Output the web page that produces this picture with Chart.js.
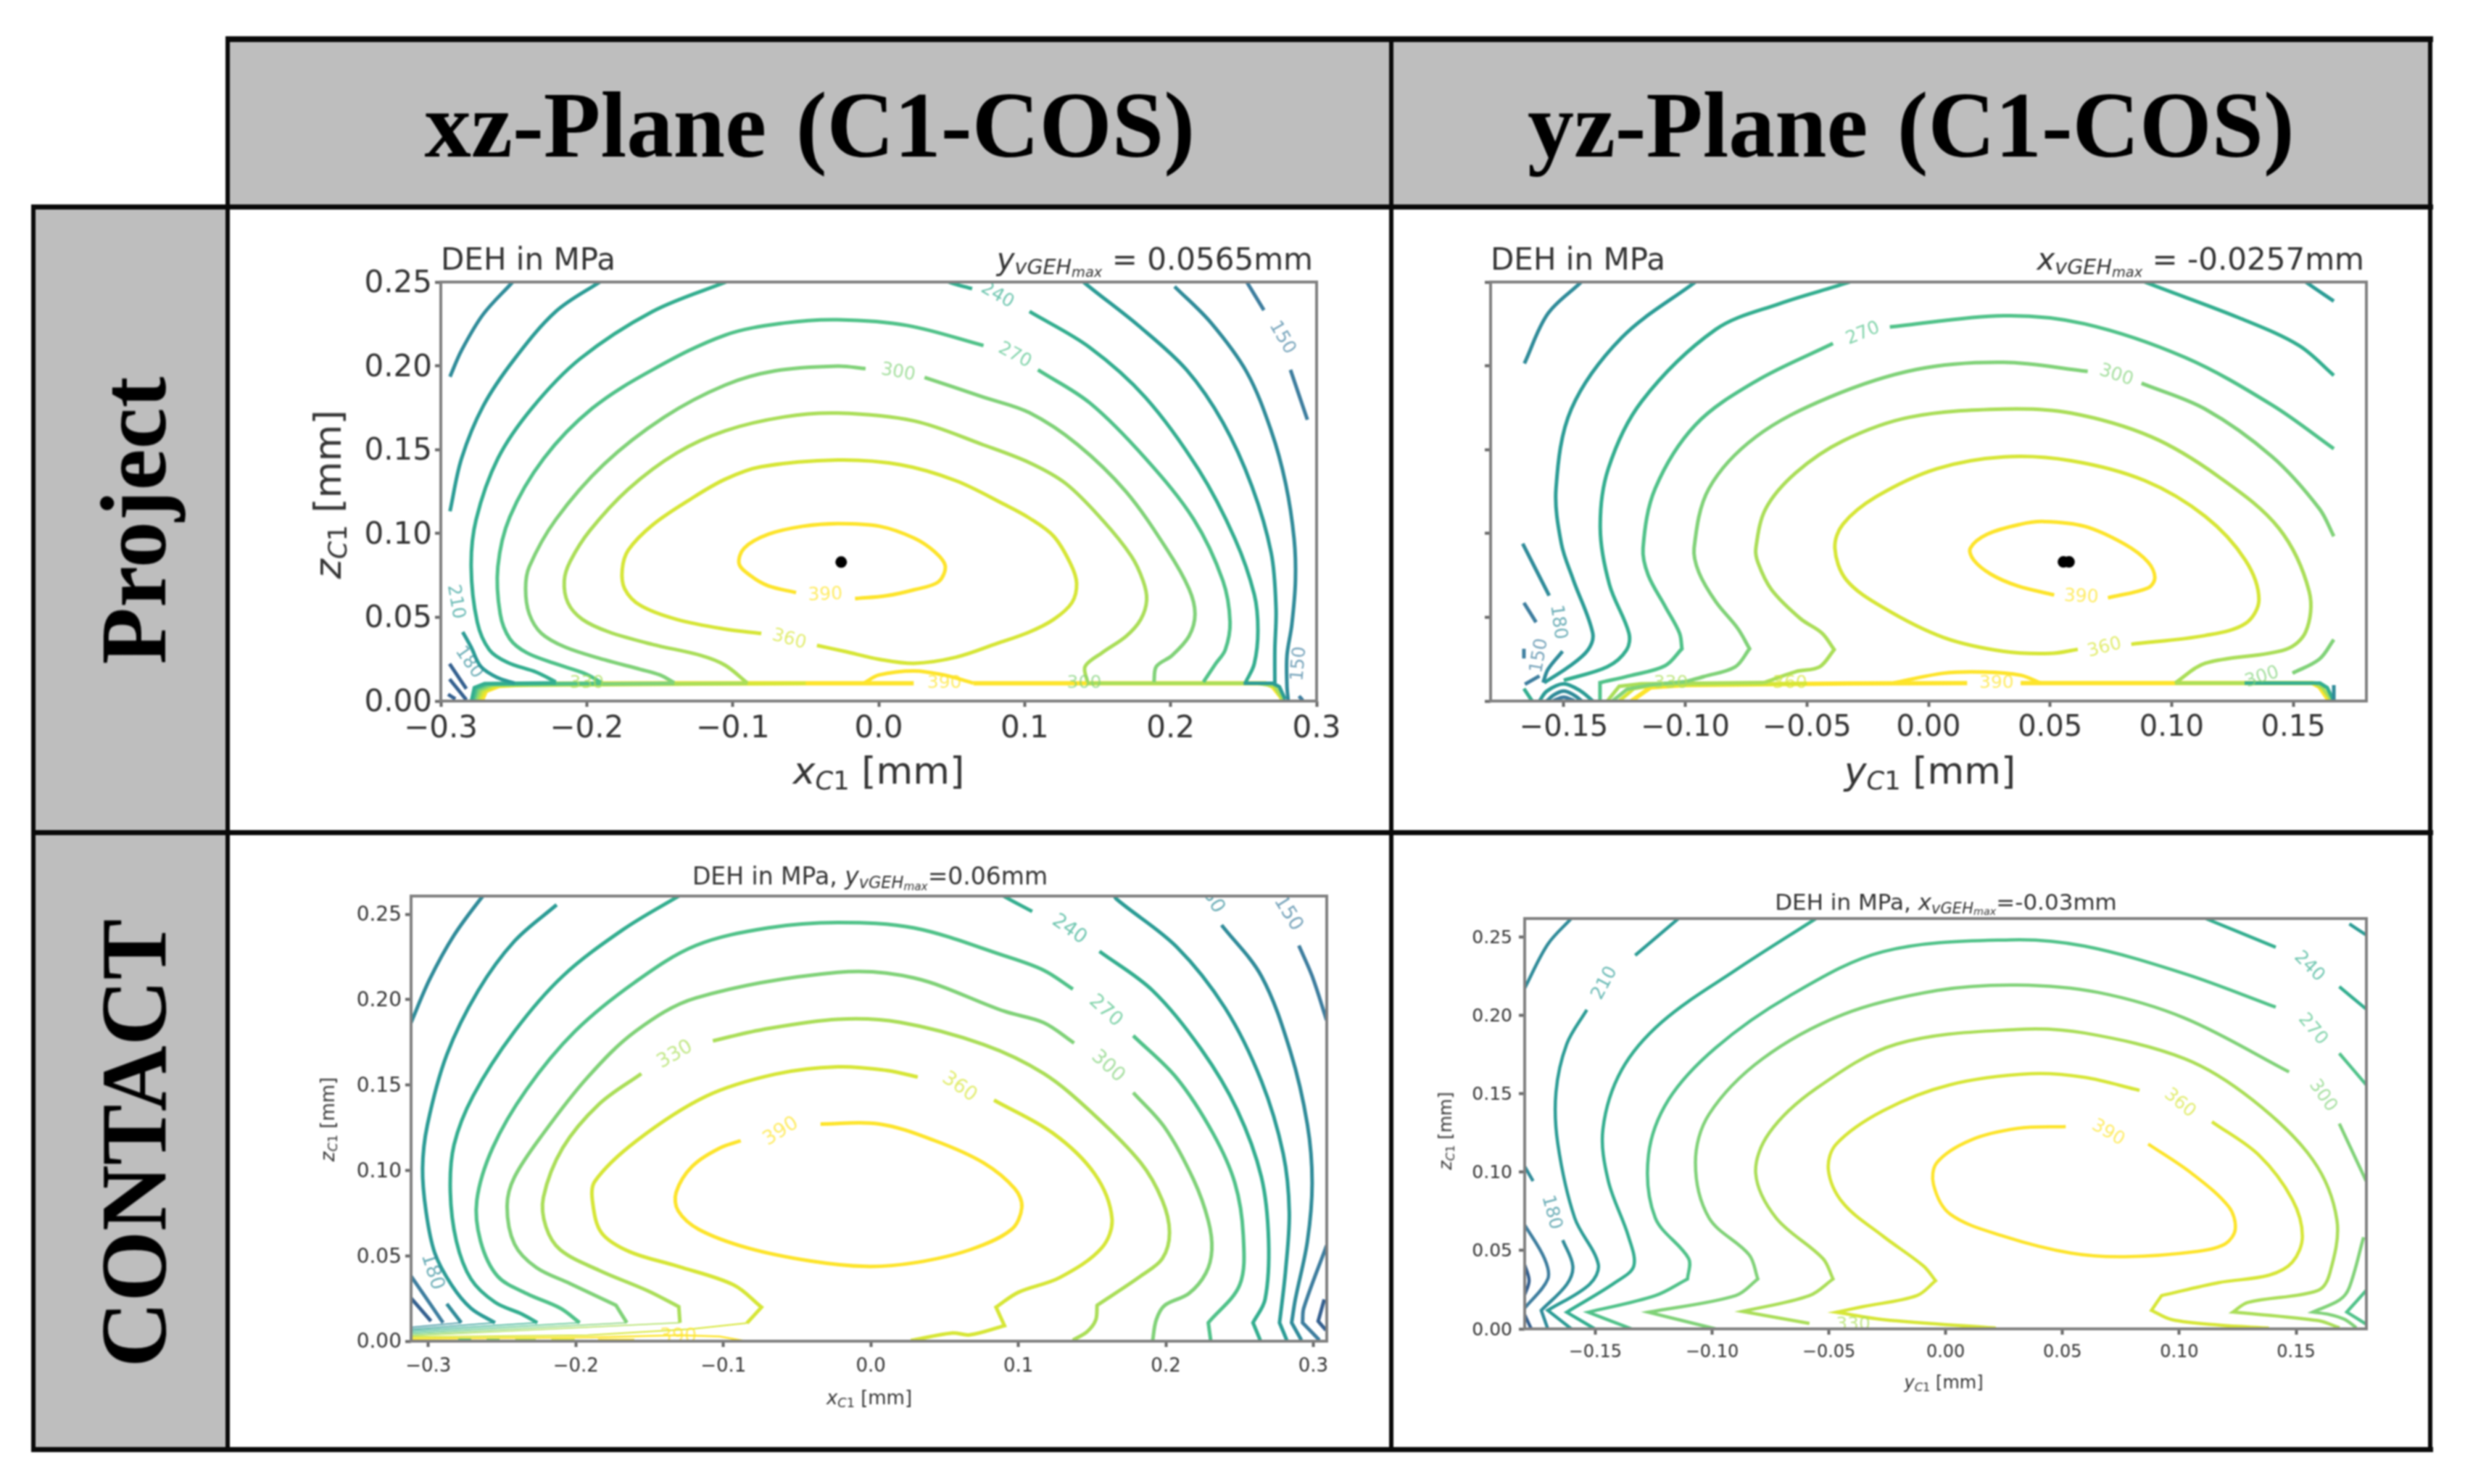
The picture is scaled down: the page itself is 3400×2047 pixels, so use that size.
<!DOCTYPE html>
<html>
<head>
<meta charset="utf-8">
<title>DEH contours</title>
<script src="https://cdn.jsdelivr.net/npm/chart.js@4"></script>
<style>
  html, body { margin: 0; background: #fff; }
  #page { position: relative; width: 3400px; height: 2047px; overflow: hidden; filter: blur(1px); }
  .cell { position: absolute; background: #bebebe; }
  .line { position: absolute; background: #0a0a0a; }
  canvas { position: absolute; }
  .head { position: absolute; font: bold 130px 'Liberation Serif', serif; color: #000; white-space: pre; word-spacing: -12px; transform-origin: center; }
  .txt { position: absolute; font-family: 'DejaVu Sans', sans-serif; color: #333; white-space: nowrap; line-height: 1; }
  .txt sub { font-size: 68%; vertical-align: -0.22em; line-height: 0; }
  .txt sub sub { font-size: 68%; vertical-align: -0.2em; }
</style>
</head>
<body>
<div id="page">
  <div class="cell" style="left:314px;top:54px;width:3038px;height:231px"></div>
  <div class="cell" style="left:46px;top:285px;width:268px;height:1714px"></div>

  <div class="line" style="left:311px;top:50px;width:3045px;height:8px"></div>
  <div class="line" style="left:43px;top:282px;width:3313px;height:7px"></div>
  <div class="line" style="left:43px;top:1145px;width:3313px;height:7px"></div>
  <div class="line" style="left:43px;top:1996px;width:3313px;height:7px"></div>
  <div class="line" style="left:43px;top:282px;width:6px;height:1721px"></div>
  <div class="line" style="left:311px;top:50px;width:6px;height:1953px"></div>
  <div class="line" style="left:1916px;top:50px;width:6px;height:1953px"></div>
  <div class="line" style="left:3349px;top:50px;width:6px;height:1953px"></div>

  <div class="head" data-w="1063" data-cx="1117" data-cy="172">xz-Plane  (C1-COS)</div>
  <div class="head" data-w="1058" data-cx="2636" data-cy="172">yz-Plane  (C1-COS)</div>
  <div class="head" data-w="397" data-cx="184" data-cy="718" data-rot="1">Project</div>
  <div class="head" data-w="618" data-cx="184" data-cy="1577" data-rot="1">CONTACT</div>

  <canvas id="pXz"></canvas>
  <canvas id="pYz"></canvas>
  <canvas id="cXz"></canvas>
  <canvas id="cYz"></canvas>

  <div class="txt" style="left:608px;top:337px;font-size:42px">DEH in MPa</div>
  <div class="txt" style="right:1589px;top:337px;font-size:42px"><i>y</i><sub><i>vGEH</i><sub><i>max</i></sub></sub> = 0.0565mm</div>
  <div class="txt" style="left:1212px;top:1063px;font-size:52px;transform:translate(-50%,-50%)"><i>x</i><sub><i>C</i>1</sub> [mm]</div>
  <div class="txt" style="left:452px;top:682px;font-size:52px;transform:translate(-50%,-50%) rotate(-90deg)"><i>z</i><sub><i>C</i>1</sub> [mm]</div>

  <div class="txt" style="left:2056px;top:337px;font-size:42px">DEH in MPa</div>
  <div class="txt" style="right:139px;top:337px;font-size:42px"><i>x</i><sub><i>vGEH</i><sub><i>max</i></sub></sub> = -0.0257mm</div>
  <div class="txt" style="left:2662px;top:1063px;font-size:52px;transform:translate(-50%,-50%)"><i>y</i><sub><i>C</i>1</sub> [mm]</div>

  <div class="txt" style="left:1200px;top:1208px;font-size:33px;transform:translate(-50%,-50%)">DEH in MPa, <i>y</i><sub><i>vGEH</i><sub><i>max</i></sub></sub>=0.06mm</div>
  <div class="txt" style="left:1199px;top:1928px;font-size:26px;transform:translate(-50%,-50%)"><i>x</i><sub><i>C</i>1</sub> [mm]</div>
  <div class="txt" style="left:452px;top:1544px;font-size:26px;transform:translate(-50%,-50%) rotate(-90deg)"><i>z</i><sub><i>C</i>1</sub> [mm]</div>

  <div class="txt" style="left:2684px;top:1244px;font-size:31px;transform:translate(-50%,-50%)">DEH in MPa, <i>x</i><sub><i>vGEH</i><sub><i>max</i></sub></sub>=-0.03mm</div>
  <div class="txt" style="left:2681px;top:1907px;font-size:24px;transform:translate(-50%,-50%)"><i>y</i><sub><i>C</i>1</sub> [mm]</div>
  <div class="txt" style="left:1994px;top:1560px;font-size:24px;transform:translate(-50%,-50%) rotate(-90deg)"><i>z</i><sub><i>C</i>1</sub> [mm]</div>
</div>

<script>
// tick labels
const xTicksWide = [-0.3, -0.2, -0.1, 0.0, 0.1, 0.2, 0.3];
const yzTicksX = [-0.15, -0.10, -0.05, 0.00, 0.05, 0.10, 0.15];
const zTicks = [0.00, 0.05, 0.10, 0.15, 0.20, 0.25];

// line colour per DEH level
const levelColors = {
  120: '#34608f', 150: '#3d7d9e', 180: '#2f8b99', 210: '#2b9c95', 240: '#33ae8f',
  270: '#50c289', 300: '#80d278', 330: '#aade58', 360: '#d6e636', 390: '#fde42a'
};

// a point written twice is a sharp corner of the contour

// ---- Project, xz-plane: [x, z]
const pXz390 = [[-0.0566,0.0647],[-0.0756,0.0687],[-0.0875,0.0746],[-0.0956,0.0818],[-0.0922,0.0912],[-0.0756,0.0995],[-0.0518,0.1043],[-0.0281,0.1059],[0.0005,0.1043],[0.0243,0.0972],[0.0385,0.0889],[0.0456,0.0806],[0.0409,0.0711],[0.0243,0.0664],[0.0052,0.0628],[-0.0162,0.0611]];
const pXz360 = [[-0.0804,0.0403],[-0.1053,0.0429],[-0.1384,0.0487],[-0.1632,0.0570],[-0.1740,0.0669],[-0.1757,0.0785],[-0.1715,0.0901],[-0.1550,0.1050],[-0.1301,0.1198],[-0.1053,0.1323],[-0.0804,0.1398],[-0.0281,0.1438],[0.0147,0.1410],[0.0528,0.1315],[0.0861,0.1173],[0.1033,0.1091],[0.1199,0.0983],[0.1315,0.0818],[0.1356,0.0702],[0.1323,0.0586],[0.1199,0.0487],[0.1033,0.0412],[0.0813,0.0344],[0.0528,0.0261],[0.0243,0.0225],[0.0005,0.0249],[-0.0233,0.0296],[-0.0423,0.0332]];
const pXz330 = [[-0.0899,0.0107],[-0.1053,0.0214],[-0.1218,0.0272],[-0.1550,0.0338],[-0.1848,0.0412],[-0.2030,0.0487],[-0.2129,0.0586],[-0.2154,0.0718],[-0.2113,0.0834],[-0.1980,0.1016],[-0.1715,0.1265],[-0.1384,0.1480],[-0.1053,0.1612],[-0.0650,0.1695],[-0.0281,0.1718],[0.0243,0.1671],[0.0718,0.1528],[0.1033,0.1422],[0.1281,0.1298],[0.1530,0.1083],[0.1729,0.0867],[0.1811,0.0718],[0.1836,0.0603],[0.1795,0.0487],[0.1695,0.0387],[0.1530,0.0288],[0.1414,0.0206],[0.1430,0.0114]];
const pXz300a = [[-0.1401,0.0109],[-0.1500,0.0156],[-0.1632,0.0189],[-0.1881,0.0247],[-0.2146,0.0321],[-0.2311,0.0404],[-0.2394,0.0520],[-0.2419,0.0669],[-0.2394,0.0801],[-0.2212,0.1083],[-0.1881,0.1414],[-0.1467,0.1695],[-0.1053,0.1885],[-0.0709,0.1970],[-0.0281,0.1998],[-0.0090,0.1983]];
const pXz300b = [[0.0314,0.1931],[0.0718,0.1813],[0.1033,0.1720],[0.1364,0.1529],[0.1695,0.1248],[0.1977,0.0901],[0.2126,0.0669],[0.2167,0.0520],[0.2126,0.0387],[0.2010,0.0272],[0.1902,0.0206],[0.1886,0.0114]];
const pXz270a = [[-0.1897,0.0109],[-0.2013,0.0164],[-0.2212,0.0222],[-0.2411,0.0288],[-0.2527,0.0371],[-0.2593,0.0520],[-0.2609,0.0801],[-0.2527,0.1099],[-0.2295,0.1447],[-0.1964,0.1745],[-0.1550,0.1976],[-0.1053,0.2183],[-0.0650,0.2255],[-0.0281,0.2275],[0.0200,0.2240],[0.0718,0.2121]];
const pXz270b = [[0.1091,0.1976],[0.1447,0.1778],[0.1828,0.1447],[0.2159,0.1083],[0.2358,0.0718],[0.2407,0.0470],[0.2374,0.0305],[0.2308,0.0222],[0.2225,0.0114]];
const pXz240a = [[-0.2212,0.0114],[-0.2345,0.0172],[-0.2543,0.0230],[-0.2667,0.0305],[-0.2750,0.0470],[-0.2792,0.0801],[-0.2758,0.1083],[-0.2609,0.1447],[-0.2378,0.1745],[-0.2046,0.2042],[-0.1550,0.2324],[-0.1053,0.2498],[-0.0950,0.2530]];
const pXz240b = [[0.0440,0.2530],[0.0480,0.2500],[0.0640,0.2460]];
const pXz240c = [[0.1033,0.2324],[0.1447,0.2109],[0.1828,0.1811],[0.2192,0.1380],[0.2441,0.0967],[0.2573,0.0636],[0.2598,0.0421],[0.2573,0.0222],[0.2515,0.0114]];
const pXz210a = [[-0.1850,0.2530],[-0.1914,0.2498],[-0.2212,0.2324],[-0.2494,0.2042],[-0.2709,0.1761],[-0.2858,0.1447],[-0.2937,0.1132]];
const pXz210b = [[-0.2850,0.0412],[-0.2792,0.0321],[-0.2725,0.0205],[-0.2610,0.0139],[-0.2494,0.0106]];
const pXz210c = [[0.1380,0.2530],[0.1406,0.2498],[0.1778,0.2241],[0.2109,0.1976],[0.2358,0.1662],[0.2557,0.1281],[0.2689,0.0884],[0.2722,0.0553],[0.2714,0.0305],[0.2714,0.0106]];
const pXz180a = [[-0.2480,0.2530],[-0.2510,0.2498],[-0.2710,0.2307],[-0.2858,0.2092],[-0.2937,0.1935]];
const pXz180b = [[0.2027,0.2473],[0.2275,0.2258],[0.2523,0.1960],[0.2689,0.1612],[0.2788,0.1298],[0.2846,0.0967],[0.2855,0.0718],[0.2830,0.0454],[0.2797,0.0272],[0.2797,0.0090],[0.2805,0.0007]];
const pXz150a = [[0.2500,0.2530],[0.2523,0.2498],[0.2639,0.2332]];
const pXz150b = [[0.2821,0.1976],[0.2937,0.1678]];
const pXz150c = [[0.2879,0.0030],[0.2905,0.0005]];
const pXz120a = [[-0.2940,0.0222],[-0.2825,0.0073]];
const pXz120b = [[-0.2940,0.0131],[-0.2825,0.0007]];
const pXz120c = [[-0.2950,0.0040],[-0.2900,0.0012]];
const pXzBase240 = [[-0.2790,0],[-0.2770,0.0080],[-0.2700,0.0104],[-0.2212,0.0108]];
const pXzBase270 = [[-0.2780,0],[-0.2755,0.0075],[-0.2680,0.0102],[-0.1897,0.0106]];
const pXzBase300 = [[-0.2770,0],[-0.2740,0.0070],[-0.2660,0.0098],[-0.1401,0.0106]];
const pXzBase330 = [[-0.2755,0],[-0.2725,0.0065],[-0.2640,0.0096],[-0.0899,0.0106]];
const pXzBase360 = [[-0.2740,0],[-0.2705,0.0060],[-0.2620,0.0093],[-0.0500,0.0106]];
const pXzBaseR = [[0.1430,0.0106],[0.2600,0.0106],[0.2710,0.0090],[0.2755,0.0030],[0.2775,0]];
const pXzBaseR210 = [[0.2500,0.0106],[0.2700,0.0106],[0.2745,0.0085],[0.2785,0.0010]];
const pXzBase390a = [[-0.2720,0],[-0.2690,0.0060],[-0.2600,0.0090],[-0.2300,0.0104],[-0.1500,0.0106],[0.0240,0.0106]];
const pXzBase390b = [[0.0650,0.0106],[0.2650,0.0106],[0.2700,0.0085],[0.2750,0.0030],[0.2770,0]];
const pXzBump390 = [[-0.0100,0.0107],[0.0000,0.0155],[0.0240,0.0180],[0.0450,0.0155],[0.0650,0.0107]];
const pXzContours = [
  [120,pXz120a],[120,pXz120b],[120,pXz120c],[150,pXz150a],[150,pXz150b],[150,pXz150c],
  [180,pXz180a],[180,pXz180b],[210,pXz210a],[210,pXz210b],[210,pXz210c],[210,pXzBaseR210,0],
  [240,pXz240a],[240,pXz240b],[240,pXz240c],[240,pXzBase240,0],
  [270,pXz270a],[270,pXz270b],[270,pXzBase270,0],
  [300,pXz300a],[300,pXz300b],[300,pXzBase300,0],
  [330,pXz330],[330,pXzBase330,0],[330,pXzBaseR,0],
  [360,pXz360],[360,pXzBase360,0],
  [390,pXz390],[390,pXzBase390a,0,6],[390,pXzBase390b,0,6],[390,pXzBump390]
];
const pXzLabelText = [240, 270, 300, 150, 390, 360, 210, 180, 150, 330, 390, 300];
const pXzLabelX = [0.0813, 0.0932, 0.0133, 0.2763, -0.0366, -0.0614, -0.2899, -0.2808, 0.2880, -0.2000, 0.0450, 0.1408];
const pXzLabelZ = [0.2420, 0.2062, 0.1960, 0.2168, 0.0633, 0.0367, 0.0592, 0.0230, 0.0222, 0.0104, 0.0104, 0.0104];
const pXzLabelDeg = [30, 28, 10, 60, -2, 15, 80, 55, -85, 0, 0, 0];
const pXzMax = [[-0.0257, 0.0829]];

// ---- Project, yz-plane
const pYz390 = [[0.0517,0.0633],[0.0366,0.0687],[0.0255,0.0758],[0.0186,0.0841],[0.0172,0.0912],[0.0241,0.0995],[0.0379,0.1055],[0.0476,0.1071],[0.0641,0.1043],[0.0807,0.0936],[0.0903,0.0829],[0.0931,0.0735],[0.0903,0.0675],[0.0738,0.0616]];
const pYz360 = [[0.0834,0.0339],[0.1138,0.0391],[0.1303,0.0462],[0.1359,0.0604],[0.1303,0.0841],[0.1138,0.1102],[0.0890,0.1315],[0.0586,0.1434],[0.0310,0.1457],[0.0034,0.1386],[-0.0214,0.1220],[-0.0352,0.1055],[-0.0385,0.0912],[-0.0338,0.0723],[-0.0186,0.0557],[0.0062,0.0379],[0.0310,0.0296],[0.0503,0.0284],[0.0614,0.0308]];
const pYz330 = [[-0.0676,0.0110],[-0.0547,0.0175],[-0.0448,0.0204],[-0.0388,0.0307],[-0.0388,0.0307],[-0.0438,0.0405],[-0.0527,0.0492],[-0.0646,0.0665],[-0.0701,0.0824],[-0.0710,0.0912],[-0.0669,0.1149],[-0.0545,0.1363],[-0.0352,0.1552],[-0.0076,0.1694],[0.0310,0.1742],[0.0586,0.1718],[0.0917,0.1576],[0.1193,0.1339],[0.1441,0.1031],[0.1566,0.0652],[0.1552,0.0415],[0.1469,0.0308],[0.1138,0.0225],[0.1014,0.0107]];
const pYz300a = [[-0.0994,0.0117],[-0.0924,0.0146],[-0.0795,0.0204],[-0.0736,0.0312],[-0.0736,0.0312],[-0.0785,0.0434],[-0.0875,0.0593],[-0.0944,0.0766],[-0.0964,0.0912],[-0.0903,0.1268],[-0.0710,0.1576],[-0.0407,0.1813],[-0.0048,0.1979],[0.0310,0.2021],[0.0655,0.1967]];
const pYz300b = [[0.0876,0.1896],[0.1138,0.1742],[0.1414,0.1457],[0.1607,0.1149],[0.1667,0.0983]];
const pYz300c = [[0.1667,0.0367],[0.1607,0.0249],[0.1497,0.0166]];
const pYz270a = [[-0.1351,0.0009],[-0.1351,0.0110],[-0.1351,0.0110],[-0.1222,0.0153],[-0.1083,0.0211],[-0.1014,0.0312],[-0.1014,0.0312],[-0.1024,0.0405],[-0.1083,0.0564],[-0.1153,0.0752],[-0.1174,0.0912],[-0.1124,0.1268],[-0.0959,0.1647],[-0.0710,0.1908],[-0.0393,0.2133]];
const pYz270b = [[-0.0159,0.2232],[0.0310,0.2299],[0.0641,0.2251],[0.1055,0.2050],[0.1414,0.1765],[0.1667,0.1505]];
const pYz240a = [[-0.1500,0.0124],[-0.1321,0.0204],[-0.1242,0.0304],[-0.1232,0.0405],[-0.1312,0.0694],[-0.1350,0.1031],[-0.1317,0.1386],[-0.1179,0.1789],[-0.0876,0.2216],[-0.0614,0.2370],[-0.0324,0.2500],[-0.0280,0.2530]];
const pYz240b = [[0.0850,0.2530],[0.0890,0.2500],[0.1276,0.2287],[0.1524,0.2121],[0.1667,0.1943]];
const pYz210a = [[-0.1580,0.0110],[-0.1480,0.0204],[-0.1401,0.0304],[-0.1381,0.0405],[-0.1461,0.0723],[-0.1510,0.0939],[-0.1532,0.1268],[-0.1469,0.1742],[-0.1262,0.2168],[-0.0959,0.2500],[-0.0930,0.2530]];
const pYz210b = [[0.1530,0.2530],[0.1552,0.2500],[0.1667,0.2386]];
const pYz180a = [[-0.1410,0.2530],[-0.1428,0.2500],[-0.1566,0.2310],[-0.1662,0.2014]];
const pYz180b = [[-0.1669,0.0939],[-0.1560,0.0629]];
const pYz180c = [[-0.1505,0.0297],[-0.1565,0.0189],[-0.1585,0.0110]];
const pYz150a = [[-0.1664,0.0586],[-0.1614,0.0470]];
const pYz150b = [[-0.1664,0.0312],[-0.1664,0.0254]];
const pYz150c = [[-0.1660,0.0100],[-0.1600,0.0150]];
const pYzArc210 = [[-0.1600,0],[-0.1570,0.0059],[-0.1500,0.0103],[-0.1430,0.0059],[-0.1381,0]];
const pYzArc180 = [[-0.1570,0],[-0.1540,0.0037],[-0.1500,0.0059],[-0.1460,0.0037],[-0.1426,0]];
const pYzArc150 = [[-0.1545,0],[-0.1500,0.0023],[-0.1455,0]];
const pYzCorner240 = [[-0.1664,0.0074],[-0.1630,0]];
const pYzEdge180 = [[0.1667,0.0095],[0.1667,0]];
const pYzBase240 = [[0.1300,0.0107],[0.1610,0.0107],[0.1640,0.0080],[0.1667,0]];
const pYzBase330L = [[-0.1321,0],[-0.1272,0.0088],[-0.1182,0.0103],[-0.0676,0.0110]];
const pYzBase330R = [[0.1014,0.0107],[0.1590,0.0107],[0.1620,0.0080],[0.1660,0]];
const pYzBase300 = [[-0.0994,0.0117],[-0.1150,0.0095],[-0.1240,0.0070],[-0.1300,0]];
const pYzBase360 = [[-0.1272,0],[-0.1212,0.0074],[-0.1123,0.0095],[-0.0500,0.0105]];
const pYzBase390a = [[-0.1222,0],[-0.1143,0.0081],[-0.1004,0.0095],[-0.0328,0.0105],[0.0159,0.0107]];
const pYzBase390b = [[0.0379,0.0107],[0.1579,0.0107],[0.1607,0.0085],[0.1648,0]];
const pYzBump390 = [[-0.0145,0.0107],[0.0062,0.0166],[0.0228,0.0173],[0.0379,0.0154],[0.0462,0.0107]];
const pYzContours = [
  [150,pYz150a],[150,pYz150b],[150,pYz150c],[150,pYzArc150],[180,pYzArc180],[210,pYzArc210],
  [180,pYz180a],[180,pYz180b],[180,pYz180c],[180,pYzEdge180,0],
  [210,pYz210a],[210,pYz210b],[240,pYz240a],[240,pYz240b],[240,pYzCorner240,0],[240,pYzBase240,0],
  [270,pYz270a],[270,pYz270b],[300,pYz300a],[300,pYz300b],[300,pYz300c],[300,pYzBase300,0],
  [330,pYz330],[330,pYzBase330L,0],[330,pYzBase330R,0],[360,pYz360],[360,pYzBase360,0],
  [390,pYz390],[390,pYzBase390a,0,6],[390,pYzBase390b,0,6],[390,pYzBump390]
];
const pYzLabelText = [270, 300, 390, 360, 180, 150, 330, 360, 390, 300];
const pYzLabelX = [-0.0269, 0.0772, 0.0628, 0.0724, -0.1524, -0.1600, -0.1060, -0.0570, 0.0280, 0.1372];
const pYzLabelZ = [0.2192, 0.1943, 0.0621, 0.0318, 0.0470, 0.0270, 0.0104, 0.0104, 0.0104, 0.0142];
const pYzLabelDeg = [-22, 18, 3, -15, 82, -80, 0, 0, 0, -18];
const pYzMax = [[0.0555, 0.0830], [0.0578, 0.0830]];

// ---- CONTACT, xz-plane
const cXz390 = [[-0.0341,0.1272],[0.0059,0.1272],[0.0435,0.1174],[0.0765,0.1044],[0.0976,0.0893],[0.1024,0.0785],[0.0953,0.0654],[0.0671,0.0535],[0.0294,0.0459],[-0.0035,0.0438],[-0.0412,0.0470],[-0.0835,0.0546],[-0.1165,0.0654],[-0.1306,0.0763],[-0.1320,0.0871],[-0.1212,0.1023],[-0.1024,0.1131],[-0.0882,0.1174]];
const cXz360a = [[0.0835,0.1412],[0.1235,0.1218],[0.1518,0.0979],[0.1635,0.0719],[0.1565,0.0546],[0.1282,0.0373],[0.1000,0.0286],[0.0849,0.0199],[0.0849,0.0199],[0.0906,0.0091],[0.0906,0.0091],[0.0671,0.0037],[0.0553,0.0048],[0.0271,0.0004]];
const cXz360b = [[0.0318,0.1547],[0.0106,0.1586],[-0.0224,0.1607],[-0.0647,0.1564],[-0.1118,0.1434],[-0.1588,0.1174],[-0.1871,0.0936],[-0.1885,0.0806],[-0.1824,0.0633],[-0.1635,0.0524],[-0.1306,0.0438],[-0.0929,0.0329],[-0.0741,0.0199],[-0.0741,0.0199],[-0.0840,0.0106]];
const cXz330a = [[-0.1294,0.0108],[-0.1302,0.0202],[-0.1302,0.0202],[-0.1515,0.0296],[-0.1843,0.0415],[-0.2105,0.0535],[-0.2203,0.0671],[-0.2220,0.0842],[-0.2089,0.1132],[-0.1843,0.1388],[-0.1556,0.1567]];
const cXz330b = [[-0.1071,0.1759],[-0.0741,0.1824],[-0.0224,0.1885],[0.0200,0.1867],[0.0765,0.1737],[0.1173,0.1567],[0.1501,0.1336],[0.1829,0.1046],[0.1976,0.0825],[0.2025,0.0637],[0.1976,0.0483],[0.1829,0.0381],[0.1534,0.0210],[0.1534,0.0210],[0.1525,0.0125],[0.1468,0.0057],[0.1370,0.0006]];
const cXz300a = [[-0.1654,0.0108],[-0.1728,0.0210],[-0.1728,0.0210],[-0.2040,0.0338],[-0.2269,0.0432],[-0.2416,0.0569],[-0.2466,0.0791],[-0.2416,0.0961],[-0.2220,0.1217],[-0.1925,0.1541],[-0.1597,0.1814],[-0.1187,0.2010],[-0.0224,0.2160],[0.0294,0.2127],[0.0906,0.1932],[0.1173,0.1865],[0.1378,0.1746]];
const cXz300b = [[0.1779,0.1456],[0.1993,0.1251],[0.2189,0.0944],[0.2288,0.0705],[0.2312,0.0535],[0.2271,0.0398],[0.2156,0.0279],[0.1993,0.0210],[0.1935,0.0125],[0.1911,0.0006]];
const cXz270a = [[-0.1974,0.0108],[-0.2105,0.0193],[-0.2334,0.0279],[-0.2531,0.0381],[-0.2646,0.0586],[-0.2671,0.0825],[-0.2564,0.1132],[-0.2335,0.1473],[-0.2007,0.1814],[-0.1597,0.2104],[-0.1187,0.2317],[-0.0700,0.2420],[-0.0224,0.2452],[0.0294,0.2420],[0.0906,0.2257],[0.1173,0.2172],[0.1370,0.2062]];
const cXz270b = [[0.1779,0.1789],[0.2074,0.1541],[0.2320,0.1217],[0.2468,0.0927],[0.2525,0.0620],[0.2501,0.0330],[0.2288,0.0108],[0.2288,0.0108],[0.2304,0.0006]];
const cXz240a = [[-0.2261,0.0108],[-0.2367,0.0159],[-0.2548,0.0228],[-0.2711,0.0364],[-0.2810,0.0586],[-0.2851,0.0876],[-0.2826,0.1149],[-0.2695,0.1439],[-0.2416,0.1814],[-0.2089,0.2138],[-0.1679,0.2411],[-0.1318,0.2599],[-0.1250,0.2630]];
const cXz240b = [[0.0870,0.2630],[0.0906,0.2604],[0.1094,0.2517]];
const cXz240c = [[0.1550,0.2283],[0.1911,0.2053],[0.2238,0.1712],[0.2484,0.1354],[0.2648,0.0961],[0.2697,0.0586],[0.2673,0.0245],[0.2591,0.0108],[0.2591,0.0108],[0.2640,0.0006]];
const cXz210a = [[-0.2548,0.0108],[-0.2711,0.0193],[-0.2843,0.0330],[-0.2957,0.0518],[-0.3015,0.0756],[-0.3039,0.1012],[-0.3006,0.1268],[-0.2875,0.1678],[-0.2662,0.2053],[-0.2416,0.2343],[-0.2130,0.2556]];
const cXz210b = [[0.1640,0.2630],[0.1665,0.2590],[0.2074,0.2309],[0.2402,0.1951],[0.2648,0.1524],[0.2796,0.1098],[0.2837,0.0756],[0.2812,0.0415],[0.2771,0.0108],[0.2771,0.0108],[0.2820,0.0006]];
const cXz180a = [[-0.2600,0.2630],[-0.2638,0.2599],[-0.2826,0.2377],[-0.2990,0.2121],[-0.3120,0.1860]];
const cXz180b = [[0.2378,0.2437],[0.2648,0.2138],[0.2845,0.1695],[0.2960,0.1268],[0.2992,0.0927],[0.2960,0.0586],[0.2878,0.0245],[0.2853,0.0108],[0.2853,0.0108],[0.2919,0.0006]];
const cXz180c = [[-0.2875,0.0219],[-0.2777,0.0108]];
const cXz150a = [[0.2902,0.2317],[0.2992,0.2138],[0.3090,0.1880]];
const cXz150b = [[-0.3120,0.0385],[-0.2900,0.0108]];
const cXz150c = [[0.3090,0.0560],[0.2935,0.0193],[0.2927,0.0108],[0.2927,0.0108],[0.3041,0.0006]];
const cXz120a = [[-0.3120,0.0255],[-0.2982,0.0117]];
const cXz120b = [[0.3074,0.0245],[0.3033,0.0117],[0.3033,0.0117],[0.3085,0.0065]];
const cXzWedge180 = [[-0.2777,0.0108],[-0.3110,0.0082]];
const cXzWedge210 = [[-0.2548,0.0108],[-0.3110,0.0070]];
const cXzWedge240 = [[-0.2261,0.0108],[-0.3110,0.0060]];
const cXzWedge270 = [[-0.1974,0.0108],[-0.3110,0.0050]];
const cXzWedge300 = [[-0.1654,0.0108],[-0.3110,0.0040]];
const cXzWedge330 = [[-0.1294,0.0108],[-0.3110,0.0032]];
const cXzWedge360 = [[-0.0840,0.0106],[-0.1217,0.0071],[-0.1920,0.0035],[-0.3110,0.0024]];
const cXzWedge390 = [[-0.0866,0.0003],[-0.1024,0.0028],[-0.1300,0.0035],[-0.1900,0.0022],[-0.3110,0.0014]];
const cXzFoot390 = [[-0.1850,0.0004],[-0.1604,0.0004]];
const cXzFoot360 = [[-0.2166,0.0004],[-0.2008,0.0004]];
const cXzFoot330 = [[-0.2411,0.0004],[-0.2271,0.0004]];
const cXzFoot300 = [[-0.2605,0.0004],[-0.2517,0.0004]];
const cXzFoot270 = [[-0.2798,0.0004],[-0.2710,0.0004]];
const cXzContours = [
  [120,cXz120a],[120,cXz120b],[150,cXz150a],[150,cXz150b],[150,cXz150c],
  [180,cXz180a],[180,cXz180b],[180,cXz180c],[180,cXzWedge180,0,1.5],
  [210,cXz210a],[210,cXz210b],[210,cXzWedge210,0,1.5],
  [240,cXz240a],[240,cXz240b],[240,cXz240c],[240,cXzWedge240,0,1.5],
  [270,cXz270a],[270,cXz270b],[270,cXzWedge270,0,1.5],[270,cXzFoot270,0],
  [300,cXz300a],[300,cXz300b],[300,cXzWedge300,0,1.5],[300,cXzFoot300,0],
  [330,cXz330a],[330,cXz330b],[330,cXzWedge330,0,1.5],[330,cXzFoot330,0],
  [360,cXz360a],[360,cXz360b],[360,cXzWedge360,0,2],[360,cXzFoot360,0],
  [390,cXz390],[390,cXzWedge390,0,2.5],[390,cXzFoot390,0]
];
const cXzLabelText = [390, 360, 330, 300, 270, 240, 180, 150, 180, 390];
const cXzLabelX = [-0.0609, 0.0600, -0.1327, 0.1607, 0.1591, 0.1345, 0.2300, 0.2828, -0.2974, -0.1306];
const cXzLabelZ = [0.1228, 0.1488, 0.1678, 0.1609, 0.1934, 0.2411, 0.2610, 0.2505, 0.0407, 0.0026];
const cXzLabelDeg = [-32, 35, -30, 42, 42, 35, 60, 58, 72, 0];

// ---- CONTACT, yz-plane
const cYz390 = [[0.0867,0.1179],[0.1054,0.0991],[0.1212,0.0778],[0.1240,0.0637],[0.1197,0.0542],[0.1082,0.0495],[0.0767,0.0460],[0.0537,0.0483],[0.0250,0.0590],[0.0020,0.0731],[-0.0052,0.0920],[-0.0037,0.1061],[0.0106,0.1203],[0.0307,0.1278],[0.0514,0.1290]];
const cYz360a = [[0.1140,0.1321],[0.1341,0.1108],[0.1484,0.0825],[0.1527,0.0590],[0.1484,0.0425],[0.1384,0.0342],[0.1169,0.0295],[0.0924,0.0212],[0.0924,0.0212],[0.0881,0.0118],[0.0881,0.0118],[0.0968,0.0059],[0.1169,0.0024],[0.1384,0.0005]];
const cYz360b = [[0.0830,0.1521],[0.0594,0.1604],[0.0365,0.1627],[0.0020,0.1557],[-0.0267,0.1392],[-0.0468,0.1179],[-0.0502,0.1014],[-0.0439,0.0802],[-0.0267,0.0590],[-0.0095,0.0401],[-0.0043,0.0307],[-0.0043,0.0307],[-0.0123,0.0212],[-0.0353,0.0142],[-0.0468,0.0106],[-0.0468,0.0106],[-0.0267,0.0059],[0.0215,0.0005]];
const cYz330 = [[-0.0583,0.0035],[-0.0870,0.0111],[-0.0870,0.0111],[-0.0583,0.0212],[-0.0482,0.0318],[-0.0482,0.0318],[-0.0525,0.0448],[-0.0726,0.0708],[-0.0813,0.0991],[-0.0755,0.1250],[-0.0554,0.1533],[-0.0210,0.1816],[0.0307,0.1910],[0.0594,0.1887],[0.1025,0.1722],[0.1312,0.1462],[0.1572,0.1077],[0.1675,0.0692],[0.1644,0.0353],[0.1593,0.0245],[0.1293,0.0168],[0.1230,0.0107],[0.1230,0.0107],[0.1593,0.0053],[0.1686,0.0007]];
const cYz300a = [[-0.0985,0],[-0.1272,0.0106],[-0.1272,0.0106],[-0.0899,0.0212],[-0.0804,0.0318],[-0.0804,0.0318],[-0.0841,0.0472],[-0.1013,0.0708],[-0.1071,0.1061],[-0.1013,0.1368],[-0.0784,0.1722],[-0.0439,0.2005],[-0.0037,0.2158],[0.0307,0.2193],[0.0652,0.2146],[0.1025,0.1981],[0.1470,0.1639]];
const cYz300b = [[0.1685,0.1309],[0.1800,0.0943]];
const cYz300c = [[0.1789,0.0584],[0.1727,0.0261],[0.1686,0.0184],[0.1572,0.0107],[0.1572,0.0107],[0.1644,0.0091],[0.1707,0.0061],[0.1758,0.0007]];
const cYz270a = [[-0.1344,0],[-0.1530,0.0106],[-0.1530,0.0106],[-0.1243,0.0212],[-0.1105,0.0318],[-0.1105,0.0318],[-0.1100,0.0448],[-0.1243,0.0708],[-0.1272,0.1108],[-0.1186,0.1462],[-0.0985,0.1792],[-0.0669,0.2123],[-0.0267,0.2406],[0.0278,0.2481],[0.0594,0.2441],[0.1025,0.2264],[0.1413,0.2052]];
const cYz270b = [[0.1685,0.1757],[0.1800,0.1557]];
const cYz270c = [[0.1800,0.0245],[0.1717,0.0107],[0.1717,0.0107],[0.1800,0.0030]];
const cYz240a = [[-0.1502,0],[-0.1622,0.0106],[-0.1622,0.0106],[-0.1415,0.0295],[-0.1335,0.0401],[-0.1358,0.0590],[-0.1444,0.0943],[-0.1467,0.1274],[-0.1387,0.1651],[-0.1214,0.1958],[-0.0899,0.2288],[-0.0554,0.2618]];
const cYz240b = [[0.1111,0.2618],[0.1413,0.2434]];
const cYz240c = [[0.1685,0.2182],[0.1800,0.2040]];
const cYz210a = [[-0.1602,0],[-0.1703,0.0118],[-0.1703,0.0118],[-0.1525,0.0283],[-0.1487,0.0413],[-0.1588,0.0708],[-0.1660,0.1179],[-0.1668,0.1509],[-0.1622,0.1816],[-0.1536,0.2035]];
const cYz210b = [[-0.1329,0.2382],[-0.1143,0.2618]];
const cYz210c = [[0.1728,0.2583],[0.1800,0.2512]];
const cYz180a = [[-0.1602,0.2618],[-0.1703,0.2453],[-0.1803,0.2170]];
const cYz180b = [[-0.1803,0.1038],[-0.1766,0.0943]];
const cYz180c = [[-0.1639,0.0566],[-0.1596,0.0401],[-0.1622,0.0283],[-0.1731,0.0118],[-0.1731,0.0118],[-0.1703,0]];
const cYz150 = [[-0.1803,0.0665],[-0.1717,0.0448],[-0.1703,0.0318],[-0.1803,0.0130]];
const cYz120a = [[-0.1803,0.0413],[-0.1783,0.0307],[-0.1803,0.0212]];
const cYz120b = [[-0.1803,0.0094],[-0.1774,0]];
const cYzContours = [
  [120,cYz120a],[120,cYz120b],[150,cYz150],[180,cYz180a],[180,cYz180b],[180,cYz180c],
  [210,cYz210a],[210,cYz210b],[210,cYz210c],[240,cYz240a],[240,cYz240b],[240,cYz240c],
  [270,cYz270a],[270,cYz270b],[270,cYz270c],[300,cYz300a],[300,cYz300b],[300,cYz300c],
  [330,cYz330],[360,cYz360a],[360,cYz360b],[390,cYz390]
];
const cYzLabelText = [210, 180, 240, 270, 300, 360, 390, 330];
const cYzLabelX = [-0.1459, -0.1688, 0.1556, 0.1571, 0.1614, 0.1002, 0.0695, -0.0396];
const cYzLabelZ = [0.2205, 0.0743, 0.2311, 0.1910, 0.1486, 0.1439, 0.1250, 0.0024];
const cYzLabelDeg = [-62, 75, 45, 50, 55, 40, 30, 0];

// draws the frame and the inline contour labels
const decorPlugin = {
  id: 'decor',
  afterDatasetsDraw(chart, args, opts) {
    const { ctx, chartArea: a, scales } = chart;
    ctx.save();
    ctx.beginPath();
    ctx.rect(a.left, a.top, a.width, a.height);
    ctx.clip();
    ctx.font = opts.size + 'px "DejaVu Sans"';
    ctx.textAlign = 'center';
    ctx.textBaseline = 'middle';
    ctx.globalAlpha = 0.7;
    opts.text.forEach((t, i) => {
      ctx.save();
      ctx.translate(scales.x.getPixelForValue(opts.x[i]), scales.y.getPixelForValue(opts.z[i]));
      ctx.rotate(opts.deg[i] * Math.PI / 180);
      ctx.fillStyle = levelColors[t];
      ctx.fillText(String(t), 0, 0);
      ctx.restore();
    });
    ctx.restore();
    ctx.strokeStyle = '#808080';
    ctx.lineWidth = opts.frame;
    ctx.strokeRect(a.left, a.top, a.width, a.height);
  }
};

function makePanel(id, rect, cfg) {
  const pad = { left: 170, right: 70, top: 40, bottom: 80 };
  const canvas = document.getElementById(id);
  canvas.width = rect.r - rect.l + pad.left + pad.right;
  canvas.height = rect.b - rect.t + pad.top + pad.bottom;
  canvas.style.left = (rect.l - pad.left) + 'px';
  canvas.style.top = (rect.t - pad.top) + 'px';
  canvas.style.width = canvas.width + 'px';
  canvas.style.height = canvas.height + 'px';

  const datasets = cfg.contours.map(c => ({
    data: c[1].map(p => ({ x: p[0], y: p[1] })),
    showLine: true,
    borderColor: levelColors[c[0]],
    borderWidth: c[3] || cfg.lineWidth,
    tension: c[2] === 0 ? 0 : 0.34,
    pointRadius: 0,
    fill: false
  }));
  if (cfg.maxPoint) {
    datasets.push({
      data: cfg.maxPoint.map(p => ({ x: p[0], y: p[1] })),
      showLine: false,
      pointRadius: 8,
      pointBackgroundColor: '#000',
      pointBorderWidth: 0
    });
  }

  const axis = (min, max, ticks, digits, fontSize, gap, hideLabels, fixedSize, prop, shift) => ({
    type: 'linear',
    min, max,
    afterBuildTicks: s => { s.ticks = ticks.map(v => ({ value: v })); },
    afterFit: s => { s[prop] = fixedSize; },
    ticks: {
      display: !hideLabels,
      autoSkip: false, maxRotation: 0, padding: gap, labelOffset: shift,
      color: '#333',
      font: { family: 'DejaVu Sans', size: fontSize },
      callback: v => v.toFixed(digits).replace('-', '\u2212')
    },
    grid: { drawOnChartArea: false, drawTicks: true, tickLength: 8, tickWidth: 4, tickColor: '#666' },
    border: { display: false }
  });

  return new Chart(canvas, {
    type: 'scatter',
    data: { datasets },
    plugins: [decorPlugin],
    options: {
      responsive: false,
      animation: false,
      events: [],
      layout: { padding: { top: pad.top, right: pad.right, left: 0, bottom: 0 } },
      scales: {
        x: axis(cfg.xMin, cfg.xMax, cfg.xTicks, cfg.xDigits, cfg.xFont, cfg.xGap, false, pad.bottom, 'height', 0),
        y: axis(0, cfg.zMax, zTicks, 2, cfg.yFont, cfg.yGap, cfg.hideY, pad.left, 'width', Math.round(cfg.yFont * 0.08))
      },
      plugins: {
        legend: { display: false },
        tooltip: { enabled: false },
        title: { display: false },
        decor: { text: cfg.labelText, x: cfg.labelX, z: cfg.labelZ, deg: cfg.labelDeg, size: cfg.labelSize, frame: cfg.frame }
      }
    }
  });
}

makePanel('pXz', { l: 608, r: 1816, t: 389, b: 967 }, {
  contours: pXzContours, maxPoint: pXzMax, lineWidth: 5, frame: 4,
  xMin: -0.3, xMax: 0.3, zMax: 0.25, xTicks: xTicksWide, xDigits: 1,
  xFont: 42, yFont: 42, xGap: 6, yGap: 4,
  labelText: pXzLabelText, labelX: pXzLabelX, labelZ: pXzLabelZ, labelDeg: pXzLabelDeg, labelSize: 25
});
makePanel('pYz', { l: 2056, r: 3264, t: 389, b: 967 }, {
  contours: pYzContours, maxPoint: pYzMax, lineWidth: 5, frame: 4,
  xMin: -0.1801, xMax: 0.1801, zMax: 0.25, xTicks: yzTicksX, xDigits: 2,
  xFont: 40, yFont: 42, xGap: 6, yGap: 4, hideY: true,
  labelText: pYzLabelText, labelX: pYzLabelX, labelZ: pYzLabelZ, labelDeg: pYzLabelDeg, labelSize: 25
});
makePanel('cXz', { l: 567, r: 1830, t: 1236, b: 1850 }, {
  contours: cXzContours, lineWidth: 5, frame: 4,
  xMin: -0.3117, xMax: 0.3091, zMax: 0.2607, xTicks: xTicksWide, xDigits: 1,
  xFont: 26, yFont: 28, xGap: 12, yGap: 5,
  labelText: cXzLabelText, labelX: cXzLabelX, labelZ: cXzLabelZ, labelDeg: cXzLabelDeg, labelSize: 27
});
makePanel('cYz', { l: 2103, r: 3264, t: 1267, b: 1833 }, {
  contours: cYzContours, lineWidth: 4.5, frame: 4,
  xMin: -0.1802, xMax: 0.1801, zMax: 0.2617, xTicks: yzTicksX, xDigits: 2,
  xFont: 24, yFont: 25, xGap: 10, yGap: 9,
  labelText: cYzLabelText, labelX: cYzLabelX, labelZ: cYzLabelZ, labelDeg: cYzLabelDeg, labelSize: 25
});

// squeeze the serif headings to the width they have in the table
document.querySelectorAll('.head').forEach(el => {
  const k = Number(el.dataset.w) / el.offsetWidth;
  const rot = el.dataset.rot ? 'rotate(-90deg) ' : '';
  el.style.left = (Number(el.dataset.cx) - el.offsetWidth / 2) + 'px';
  el.style.top = (Number(el.dataset.cy) - el.offsetHeight / 2) + 'px';
  el.style.transform = rot + 'scaleX(' + k + ')';
});
</script>
</body>
</html>
